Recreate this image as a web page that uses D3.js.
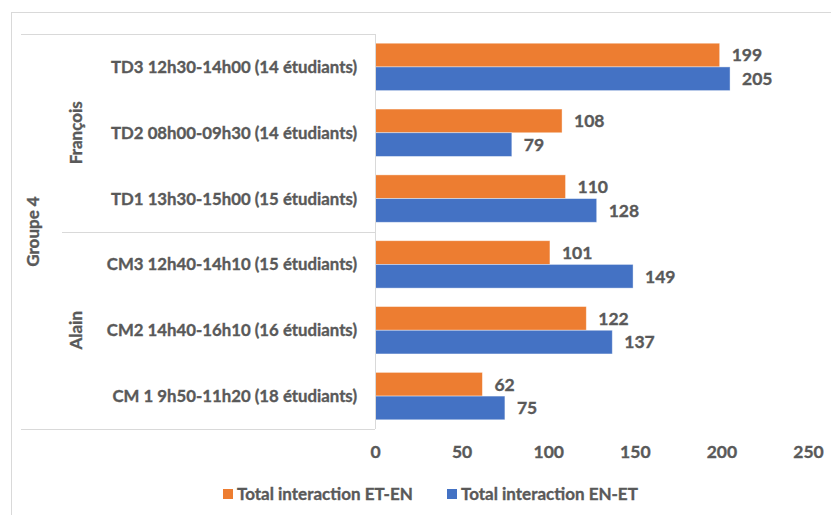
<!DOCTYPE html>
<html><head><meta charset="utf-8">
<script src="https://cdn.jsdelivr.net/npm/d3@7"></script>
<style>
html,body{margin:0;padding:0;background:#fff;}
svg{display:block;}
text{font-family:Lato,"Liberation Sans",sans-serif;font-weight:bold;fill:#595959;stroke:#595959;stroke-width:0.35px;}
</style></head>
<body>
<svg id="chart" width="831" height="515"></svg>
<script>
const categories = [
  "TD3 12h30-14h00 (14 étudiants)",
  "TD2 08h00-09h30 (14 étudiants)",
  "TD1 13h30-15h00 (15 étudiants)",
  "CM3 12h40-14h10 (15 étudiants)",
  "CM2 14h40-16h10 (16 étudiants)",
  "CM 1 9h50-11h20 (18 étudiants)"
];
const teachers = ["François", "Alain"];
const teacherOf = ["François","François","François","Alain","Alain","Alain"];
const groupLabel = "Groupe 4";
const seriesNames = ["Total interaction ET-EN", "Total interaction EN-ET"];
const seriesColors = ["#ED7D31", "#4472C4"];
const etEn = [199, 108, 110, 101, 122, 62];
const enEt = [205, 79, 128, 149, 137, 75];
const xTicks = [0, 50, 100, 150, 200, 250];

const svg = d3.select("#chart");
const plotTop = 34, plotBottom = 429, x0 = 375;

// outer border
svg.append("rect").attr("x", 11.5).attr("y", 12.5).attr("width", 830).attr("height", 520)
  .attr("fill", "none").attr("stroke", "#d9d9d9").attr("stroke-width", 1);

const x = d3.scaleLinear().domain([0, 250]).range([x0, 808]);
const y = d3.scaleBand().domain(categories).range([plotTop, plotBottom]).paddingInner(0.28).paddingOuter(0.14);
const ys = d3.scaleBand().domain(seriesNames).range([0, y.bandwidth()]);

const data = categories.map((c, i) => ({cat: c, vals: [etEn[i], enEt[i]]}));

// bars
const g = svg.append("g");
data.forEach(d => {
  d.vals.forEach((v, k) => {
    g.append("rect")
      .attr("x", x(0))
      .attr("y", y(d.cat) + ys(seriesNames[k]))
      .attr("width", x(v) - x(0))
      .attr("height", ys.bandwidth())
      .attr("fill", seriesColors[k])
      .attr("stroke", "#ffffff").attr("stroke-opacity", 0.5).attr("stroke-width", 0.8);
    g.append("text")
      .attr("x", x(v) + 12)
      .attr("y", y(d.cat) + ys(seriesNames[k]) + ys.bandwidth() / 2)
      .attr("dy", "0.36em")
      .style("font-size", "17.5px")
      .text(v);
  });
});

// category axis lines
const lineCol = "#d9d9d9";
svg.append("line").attr("x1", x0 + 0.5).attr("x2", x0 + 0.5).attr("y1", plotTop).attr("y2", plotBottom)
  .attr("stroke", lineCol);
svg.append("line").attr("x1", 21).attr("x2", x0).attr("y1", plotTop + 0.5).attr("y2", plotTop + 0.5).attr("stroke", lineCol);
svg.append("line").attr("x1", 21).attr("x2", x0).attr("y1", plotBottom + 0.5).attr("y2", plotBottom + 0.5).attr("stroke", lineCol);
const sepY = (y(categories[2]) + y.bandwidth() + y(categories[3])) / 2;
svg.append("line").attr("x1", 62).attr("x2", x0).attr("y1", Math.round(sepY) + 0.5).attr("y2", Math.round(sepY) + 0.5).attr("stroke", lineCol);

// category labels
svg.append("g").selectAll("text").data(categories).join("text")
  .attr("x", 357)
  .attr("y", d => y(d) + y.bandwidth() / 2)
  .attr("dy", "0.36em")
  .attr("text-anchor", "end")
  .style("font-size", "16.8px")
  .text(d => d);

// teacher labels
teachers.forEach(t => {
  const yTop = t === teachers[0] ? plotTop : sepY;
  const yBot = t === teachers[0] ? sepY : plotBottom;
  const cy = (yTop + yBot) / 2;
  svg.append("text")
    .attr("transform", `translate(76,${cy}) rotate(-90)`)
    .attr("dy", "0.36em")
    .attr("text-anchor", "middle")
    .style("font-size", "17px")
    .text(t);
});
svg.append("text")
  .attr("transform", `translate(33,${(plotTop + plotBottom) / 2}) rotate(-90)`)
  .attr("dy", "0.36em")
  .attr("text-anchor", "middle")
  .style("font-size", "17px")
  .text(groupLabel);

// x axis
const xAxis = d3.axisBottom(x).tickValues(xTicks).tickSize(0).tickPadding(17).tickFormat(d3.format("d"));
const ax = svg.append("g").attr("transform", `translate(0,${plotBottom})`).call(xAxis);
ax.select(".domain").remove();
ax.selectAll("text").attr("fill", "#595959").style("font-size", "17.5px")
  .style("font-family", "Lato, 'Liberation Sans', sans-serif").style("font-weight", "bold");

// legend
const legX = [223, 447];
const leg = svg.append("g");
seriesNames.forEach((s, k) => {
  leg.append("rect").attr("x", legX[k]).attr("y", 489).attr("width", 10).attr("height", 10).attr("fill", seriesColors[k]);
  leg.append("text").attr("x", legX[k] + 14).attr("y", 494).attr("dy", "0.36em")
    .style("font-size", "17px").text(s);
});
</script>
</body></html>
